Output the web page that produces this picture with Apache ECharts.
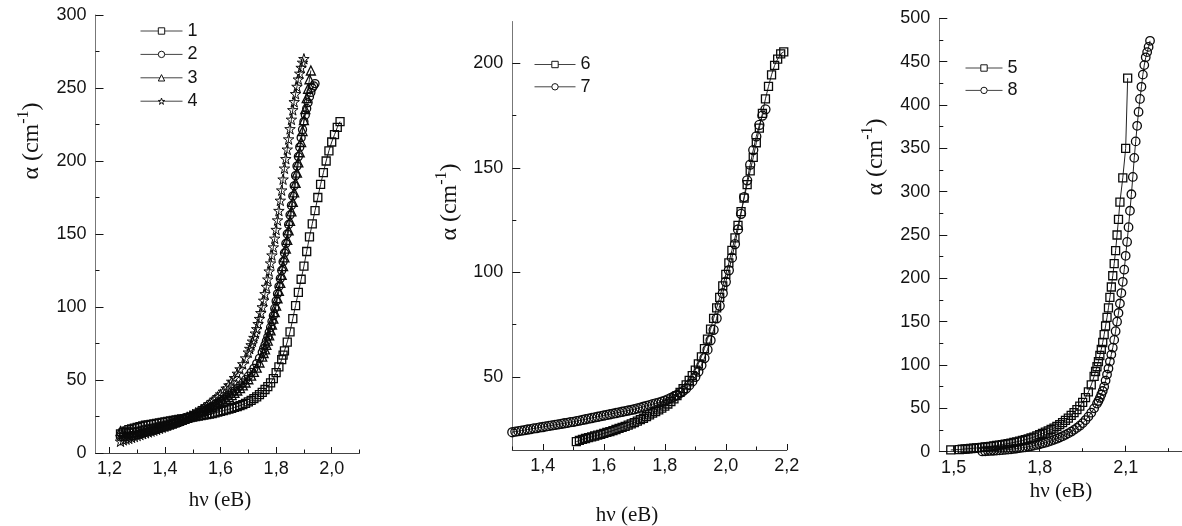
<!DOCTYPE html>
<html><head><meta charset="utf-8">
<script src="https://cdn.jsdelivr.net/npm/echarts@6/dist/echarts.min.js"></script>
<style>html,body{margin:0;padding:0;background:#fff}#c{width:1182px;height:526px}</style>
</head><body><div id="c"></div>
<script>
// ---------- data (x = hν in eV, y = α in cm^-1) ----------
const s1 = [[1.24,13],[1.25,14],[1.26,15],[1.27,16],[1.28,16.5],[1.29,17],[1.30,17.5],[1.31,18],[1.32,18.5],[1.33,19],[1.34,19.3],[1.35,19.6],[1.36,20],[1.37,20.3],[1.38,20.6],[1.39,21],[1.40,21.3],[1.41,21.6],[1.42,22],[1.43,22.3],[1.44,22.6],[1.45,23],[1.46,23.3],[1.47,23.6],[1.48,24],[1.49,24.3],[1.50,24.6],[1.51,25],[1.52,25.3],[1.53,25.6],[1.54,26],[1.55,26.3],[1.56,26.7],[1.57,27],[1.58,27.5],[1.59,28],[1.60,28.5],[1.61,29],[1.62,29.5],[1.63,30],[1.64,30.6],[1.65,31.2],[1.66,31.8],[1.67,32.5],[1.68,33.2],[1.69,34],[1.70,35],[1.71,36],[1.72,37.2],[1.73,38.5],[1.74,40],[1.75,41.5],[1.76,43.5],[1.77,45.5],[1.78,48],[1.79,51],[1.80,55],[1.81,59],[1.82,64],[1.825,67],[1.83,70],[1.84,76],[1.85,83],[1.86,92],[1.87,101],[1.88,110],[1.89,119],[1.90,128],[1.91,138],[1.92,148],[1.93,157],[1.94,166],[1.95,175],[1.96,184],[1.97,192],[1.98,200],[1.99,207],[2.00,213],[2.01,218],[2.02,223],[2.03,227]];
const s2 = [[1.24,11],[1.25,11],[1.26,11.2],[1.27,11.5],[1.28,11.8],[1.29,12.2],[1.30,12.6],[1.31,13],[1.32,13.5],[1.33,14],[1.34,14.5],[1.35,15],[1.36,15.5],[1.37,16],[1.38,16.6],[1.39,17.2],[1.40,17.8],[1.41,18.4],[1.42,19],[1.43,19.7],[1.44,20.4],[1.45,21.1],[1.46,21.9],[1.47,22.7],[1.48,23.5],[1.49,24.3],[1.50,25.2],[1.51,26.1],[1.52,27],[1.53,28],[1.54,29],[1.55,30],[1.56,31],[1.57,32],[1.58,33.1],[1.59,34.2],[1.60,35.4],[1.61,36.6],[1.62,37.9],[1.63,39.3],[1.64,40.8],[1.65,42.4],[1.66,44.1],[1.67,46],[1.68,48],[1.69,50.2],[1.70,52.6],[1.71,55.2],[1.72,58],[1.73,61.2],[1.74,64.8],[1.75,69],[1.755,71.5],[1.76,74],[1.765,76.7],[1.77,79.5],[1.775,82.7],[1.78,86],[1.785,90],[1.79,94],[1.795,99],[1.80,104],[1.805,109],[1.81,114],[1.815,119.5],[1.82,125],[1.825,131],[1.83,137],[1.835,143.5],[1.84,150],[1.845,156.5],[1.85,163],[1.855,169.5],[1.86,176],[1.865,183],[1.87,190],[1.875,196.5],[1.88,203],[1.885,209.5],[1.89,216],[1.895,221.5],[1.90,227],[1.905,231.5],[1.91,236],[1.915,240],[1.92,244],[1.925,247],[1.93,250],[1.935,251.5],[1.94,253]];
const s3 = [[1.24,15],[1.25,14.5],[1.26,14],[1.27,14],[1.28,14],[1.29,14.2],[1.30,14.5],[1.31,15],[1.32,15.4],[1.33,15.8],[1.34,16.2],[1.35,16.6],[1.36,17],[1.37,17.5],[1.38,18],[1.39,18.5],[1.40,19],[1.41,19.6],[1.42,20.2],[1.43,20.8],[1.44,21.4],[1.45,22],[1.46,22.7],[1.47,23.4],[1.48,24.1],[1.49,24.9],[1.50,25.7],[1.51,26.4],[1.52,27.1],[1.53,27.8],[1.54,28.6],[1.55,29.5],[1.56,30.5],[1.57,31.5],[1.58,32.5],[1.59,33.5],[1.60,34.6],[1.61,35.8],[1.62,37],[1.63,38.3],[1.64,39.7],[1.65,41.2],[1.66,42.8],[1.67,44.5],[1.68,46.3],[1.69,48.3],[1.70,50.5],[1.71,53],[1.72,55.5],[1.73,58.5],[1.74,62],[1.75,66],[1.755,68.5],[1.76,71],[1.765,74],[1.77,77],[1.775,80.5],[1.78,84],[1.785,88],[1.79,92],[1.795,96.5],[1.80,101],[1.805,106],[1.81,111],[1.815,116.5],[1.82,122],[1.825,128],[1.83,134],[1.835,140],[1.84,146],[1.845,152.5],[1.85,159],[1.855,165.5],[1.86,172],[1.865,178.5],[1.87,185],[1.875,192],[1.88,199],[1.885,206],[1.89,213],[1.895,220.5],[1.90,228],[1.905,235.5],[1.91,243],[1.915,249.5],[1.92,256],[1.925,262]];
const s4 = [[1.24,8],[1.25,9],[1.26,9.5],[1.27,10],[1.28,10.7],[1.29,11.3],[1.30,12],[1.31,12.6],[1.32,13.2],[1.33,13.8],[1.34,14.4],[1.35,15],[1.36,15.6],[1.37,16.2],[1.38,16.9],[1.39,17.6],[1.40,18.3],[1.41,19],[1.42,19.7],[1.43,20.4],[1.44,21.2],[1.45,22],[1.46,22.8],[1.47,23.7],[1.48,24.6],[1.49,25.5],[1.50,26.5],[1.51,27.5],[1.52,28.6],[1.53,29.8],[1.54,31],[1.55,32.3],[1.56,33.7],[1.57,35.2],[1.58,36.8],[1.59,38.5],[1.60,40.3],[1.61,42.2],[1.62,44.3],[1.63,46.5],[1.64,49],[1.65,51.5],[1.66,54.5],[1.67,57.5],[1.68,61],[1.69,65],[1.70,69],[1.705,71.5],[1.71,74],[1.715,76.5],[1.72,79],[1.725,82],[1.73,85],[1.735,88.5],[1.74,92],[1.745,96],[1.75,100],[1.755,104.5],[1.76,109],[1.765,114],[1.77,119],[1.775,124.5],[1.78,130],[1.785,135.5],[1.79,141],[1.795,147],[1.80,153],[1.805,159.5],[1.81,166],[1.815,173],[1.82,180],[1.825,187.5],[1.83,195],[1.835,201.5],[1.84,208],[1.845,215],[1.85,222],[1.855,228.5],[1.86,235],[1.865,240.5],[1.87,246],[1.875,251],[1.88,256],[1.885,260],[1.89,264],[1.895,267.5],[1.90,270]];
const s6 = [[1.51,19],[1.52,19.6],[1.53,20.1],[1.54,20.5],[1.55,20.9],[1.56,21.3],[1.57,21.7],[1.58,22.1],[1.59,22.5],[1.60,23],[1.61,23.4],[1.62,23.8],[1.63,24.3],[1.64,24.8],[1.65,25.3],[1.66,25.8],[1.67,26.3],[1.68,26.9],[1.69,27.5],[1.70,28.1],[1.71,28.8],[1.72,29.5],[1.73,30.2],[1.74,31],[1.75,31.8],[1.76,32.6],[1.77,33.4],[1.78,34.2],[1.79,35],[1.80,36],[1.81,37],[1.82,38.2],[1.83,39.5],[1.84,41],[1.85,42.6],[1.86,44.3],[1.87,46.2],[1.88,48.3],[1.89,50.6],[1.90,53.2],[1.91,56.2],[1.92,59.6],[1.93,63.5],[1.94,68],[1.95,72.8],[1.96,78],[1.97,83],[1.98,88],[1.99,93.5],[2.00,99],[2.01,104.5],[2.02,110.5],[2.03,116.5],[2.04,122.5],[2.05,129],[2.06,135.5],[2.07,142],[2.08,148.5],[2.09,155],[2.10,162],[2.11,169],[2.12,176],[2.13,183],[2.14,189],[2.15,194.5],[2.16,199],[2.17,202],[2.18,204.5],[2.19,205.5]];
const s7 = [[1.30,23.5],[1.31,23.8],[1.32,24],[1.33,24.3],[1.34,24.5],[1.35,24.8],[1.36,25],[1.37,25.3],[1.38,25.5],[1.39,25.8],[1.40,26],[1.41,26.3],[1.42,26.5],[1.43,26.8],[1.44,27],[1.45,27.3],[1.46,27.5],[1.47,27.8],[1.48,28],[1.49,28.3],[1.50,28.5],[1.51,28.8],[1.52,29.1],[1.53,29.4],[1.54,29.7],[1.55,30],[1.56,30.3],[1.57,30.6],[1.58,30.9],[1.59,31.2],[1.60,31.5],[1.61,31.8],[1.62,32.1],[1.63,32.4],[1.64,32.7],[1.65,33],[1.66,33.3],[1.67,33.6],[1.68,33.9],[1.69,34.2],[1.70,34.5],[1.71,34.9],[1.72,35.3],[1.73,35.7],[1.74,36.1],[1.75,36.5],[1.76,36.9],[1.77,37.3],[1.78,37.7],[1.79,38.1],[1.80,38.6],[1.81,39.2],[1.82,39.9],[1.83,40.6],[1.84,41.4],[1.85,42.3],[1.86,43.3],[1.87,44.5],[1.88,46],[1.89,47.8],[1.90,50],[1.91,52.5],[1.92,55.5],[1.93,59],[1.94,63],[1.95,67.5],[1.96,72.5],[1.97,78],[1.98,84],[1.99,90],[2.00,95.5],[2.01,101],[2.02,107],[2.03,113.5],[2.04,120.5],[2.05,128],[2.06,136],[2.07,144],[2.08,151.5],[2.09,158.5],[2.10,165],[2.11,170.5],[2.12,175],[2.13,178]];
const s5 = [[1.49,2],[1.52,2.5],[1.53,2.8],[1.54,3.1],[1.55,3.4],[1.56,3.7],[1.57,4],[1.58,4.3],[1.59,4.6],[1.60,5],[1.61,5.4],[1.62,5.8],[1.63,6.2],[1.64,6.7],[1.65,7.2],[1.66,7.7],[1.67,8.2],[1.68,8.8],[1.69,9.4],[1.70,10],[1.71,10.7],[1.72,11.4],[1.73,12.2],[1.74,13],[1.75,13.9],[1.76,14.8],[1.77,15.8],[1.78,16.9],[1.79,18.2],[1.80,19.6],[1.81,21],[1.82,22.5],[1.83,24],[1.84,25.6],[1.85,27.3],[1.86,29.2],[1.87,31.3],[1.88,33.6],[1.89,36.1],[1.90,38.8],[1.91,41.8],[1.92,45],[1.93,48.5],[1.94,52.5],[1.95,57],[1.96,62.5],[1.97,69],[1.98,77],[1.99,87],[1.995,92.5],[2.0,98],[2.005,104],[2.01,111],[2.015,118],[2.02,126],[2.025,135],[2.03,145],[2.035,155],[2.04,166],[2.045,178],[2.05,190],[2.055,203],[2.06,217],[2.065,232],[2.07,250],[2.075,268],[2.08,288],[2.09,316],[2.10,350],[2.107,431]];
const s8 = [[1.60,0.3],[1.61,0.5],[1.62,0.7],[1.63,0.9],[1.64,1.1],[1.65,1.3],[1.66,1.5],[1.67,1.8],[1.68,2.1],[1.69,2.4],[1.70,2.8],[1.71,3.2],[1.72,3.6],[1.73,4.1],[1.74,4.6],[1.75,5.1],[1.76,5.7],[1.77,6.3],[1.78,7],[1.79,7.8],[1.80,8.6],[1.81,9.5],[1.82,10.4],[1.83,11.4],[1.84,12.5],[1.85,13.7],[1.86,15],[1.87,16.4],[1.88,17.9],[1.89,19.5],[1.90,21.2],[1.91,23.1],[1.92,25.2],[1.93,27.5],[1.94,30],[1.95,33],[1.96,36.5],[1.97,40.5],[1.98,45],[1.99,50],[2.00,55.5],[2.005,58.5],[2.01,62],[2.015,66],[2.02,70],[2.025,75],[2.03,82],[2.035,89],[2.04,96],[2.045,104],[2.05,112],[2.055,120],[2.06,129],[2.065,139],[2.07,150],[2.075,160],[2.08,171],[2.085,183],[2.09,196],[2.095,210],[2.10,226],[2.105,242],[2.11,259],[2.115,278],[2.12,297],[2.125,317],[2.13,339],[2.135,358],[2.14,376],[2.145,392],[2.15,407],[2.155,421],[2.16,435],[2.165,446],[2.17,455],[2.175,461],[2.18,467],[2.185,474]];

// ---------- ticks ----------
const p1XMajor = [1.2,1.4,1.6,1.8,2.0];
const p1XMinor = [1.3,1.5,1.7,1.9,2.1];
const p2XMajor = [1.4,1.6,1.8,2.0,2.2];
const p2XMinor = [1.3,1.5,1.7,1.9,2.1];
const p2YMajor = [50,100,150,200];
const p2YMinor = [25,75,125,175];
const p3XMajor = [1.5,1.8,2.1];
const p3XMinor = [1.65,1.95,2.25];

const SANS = "'Liberation Sans', Arial, sans-serif";
const SERIF = "'Liberation Serif', 'Times New Roman', serif";
const INK = '#141414';
const MARK = '#0a0a0a';
const STAR = 'path://M50 0 L61.2 34.6 L97.6 34.5 L68.1 55.9 L79.4 90.5 L50 69 L20.6 90.5 L31.9 55.9 L2.4 34.5 L38.8 34.6 Z';

const fmtX1 = v => v.toFixed(1).replace('.', ',');

function xMajor(g, min, max, vals) {
  return {type:'value', gridIndex:g, min:min, max:max, position:'bottom',
    axisLine:{show:true, onZero:false, lineStyle:{color:'#444', width:1}},
    axisTick:{show:true, inside:true, length:6, customValues:vals, lineStyle:{color:INK, width:1}},
    axisLabel:{show:true, customValues:vals, formatter:fmtX1, fontSize:18, color:INK, fontFamily:SANS, margin:7},
    splitLine:{show:false}};
}
function xMinor(g, min, max, vals) {
  return {type:'value', gridIndex:g, min:min, max:max, position:'bottom',
    axisLine:{show:false, onZero:false},
    axisTick:{show:true, inside:true, length:3.5, customValues:vals, lineStyle:{color:INK, width:1}},
    axisLabel:{show:false}, splitLine:{show:false}};
}
function yReg(g, min, max) {
  return {type:'value', gridIndex:g, min:min, max:max, interval:50, position:'left',
    axisLine:{show:true, onZero:false, lineStyle:{color:'#777', width:1}},
    axisTick:{show:true, inside:true, length:8, lineStyle:{color:INK, width:1}},
    minorTick:{show:true, splitNumber:2, length:4, lineStyle:{color:INK, width:1}},
    axisLabel:{show:true, fontSize:18, color:INK, fontFamily:SANS, margin:9},
    splitLine:{show:false}, minorSplitLine:{show:false}};
}

const yAxes = [
  yReg(0, 0, 300),
  {type:'value', gridIndex:1, min:15, max:220, position:'left',
    axisLine:{show:true, onZero:false, lineStyle:{color:'#777', width:1}},
    axisTick:{show:true, inside:true, length:8, customValues:p2YMajor, lineStyle:{color:INK, width:1}},
    axisLabel:{show:true, customValues:p2YMajor, fontSize:18, color:INK, fontFamily:SANS, margin:9},
    splitLine:{show:false}},
  {type:'value', gridIndex:1, min:15, max:220, position:'left',
    axisLine:{show:false, onZero:false},
    axisTick:{show:true, inside:true, length:4, customValues:p2YMinor, lineStyle:{color:INK, width:1}},
    axisLabel:{show:false}, splitLine:{show:false}},
  yReg(2, 0, 500)
];
const xAxes = [
  xMajor(0, 1.15, 2.1, p1XMajor), xMinor(0, 1.15, 2.1, p1XMinor),
  xMajor(1, 1.3, 2.2, p2XMajor), xMinor(1, 1.3, 2.2, p2XMinor),
  xMajor(2, 1.45, 2.3, p3XMajor), xMinor(2, 1.45, 2.3, p3XMinor)
];

function ser(name, data, symbol, xi, yi, size, bw) {
  return {name:name, type:'line', data:data, xAxisIndex:xi, yAxisIndex:yi,
    symbol:symbol, symbolSize:size, showSymbol:true, showAllSymbol:true,
    lineStyle:{color:'#222', width:1},
    itemStyle:{color:'rgba(255,255,255,0)', borderColor:MARK, borderWidth:bw},
    emphasis:{disabled:true}, animation:false, z:2};
}

const legendItem = name => ({name:name, itemStyle:{color:'#fff', borderColor:INK, borderWidth:1}, lineStyle:{color:'#444', width:1}});
const legendBase = {orient:'vertical', padding:0, itemHeight:8, selectedMode:false,
  textStyle:{fontSize:18, color:INK, fontFamily:SANS}};

function title(x, y, text, rot, fs, sfs) {
  return {type:'text', x:x, y:y, rotation:rot, silent:true,
    style:{text:text, fill:INK, fontSize:fs, fontFamily:SERIF, lineHeight:Math.round(fs*1.35),
      align:'center', verticalAlign:'middle',
      rich:{s:{fontSize:sfs, lineHeight:sfs, verticalAlign:'top', fontFamily:SERIF, fill:INK}}}};
}

const option = {
  animation:false,
  backgroundColor:'#fff',
  grid:[
    {left:95.5, top:15, width:264, height:438, outerBoundsMode:'none'},
    {left:512.3, top:21.5, width:274.5, height:428.5, outerBoundsMode:'none'},
    {left:939.3, top:18.3, width:243.7, height:433.4, outerBoundsMode:'none'}
  ],
  xAxis: xAxes,
  yAxis: yAxes,
  legend:[
    Object.assign({}, legendBase, {data:['1','2','3','4'].map(legendItem), left:140, top:22, itemWidth:42, itemGap:5.4}),
    Object.assign({}, legendBase, {data:['6','7'].map(legendItem), left:534, top:55.5, itemWidth:41, itemGap:4.3}),
    Object.assign({}, legendBase, {data:['5','8'].map(legendItem), left:965, top:59, itemWidth:37, itemGap:4.4})
  ],
  series:[
    ser('1', s1, 'rect', 0, 0, 8, 1.3),
    ser('2', s2, 'circle', 0, 0, 8, 1.3),
    ser('3', s3, 'triangle', 0, 0, 9, 1.3),
    ser('4', s4, STAR, 0, 0, 10.5, 1),
    ser('6', s6, 'rect', 2, 1, 8, 1.3),
    ser('7', s7, 'circle', 2, 1, 9, 1.3),
    ser('5', s5, 'rect', 4, 3, 8, 1.3),
    ser('8', s8, 'circle', 4, 3, 8.5, 1.3)
  ],
  graphic:[
    title(32, 141, 'α (cm{s|-1})', Math.PI/2, 24, 16),
    title(220, 500, 'hν (eB)', 0, 21, 14),
    title(450, 202, 'α (cm{s|-1})', Math.PI/2, 24, 16),
    title(627, 515, 'hν (eB)', 0, 21, 14),
    title(876, 157, 'α (cm{s|-1})', Math.PI/2, 24, 16),
    title(1061, 491, 'hν (eB)', 0, 21, 14)
  ]
};
const chart = echarts.init(document.getElementById('c'), null, {renderer:'canvas'});
chart.setOption(option);
</script></body></html>
